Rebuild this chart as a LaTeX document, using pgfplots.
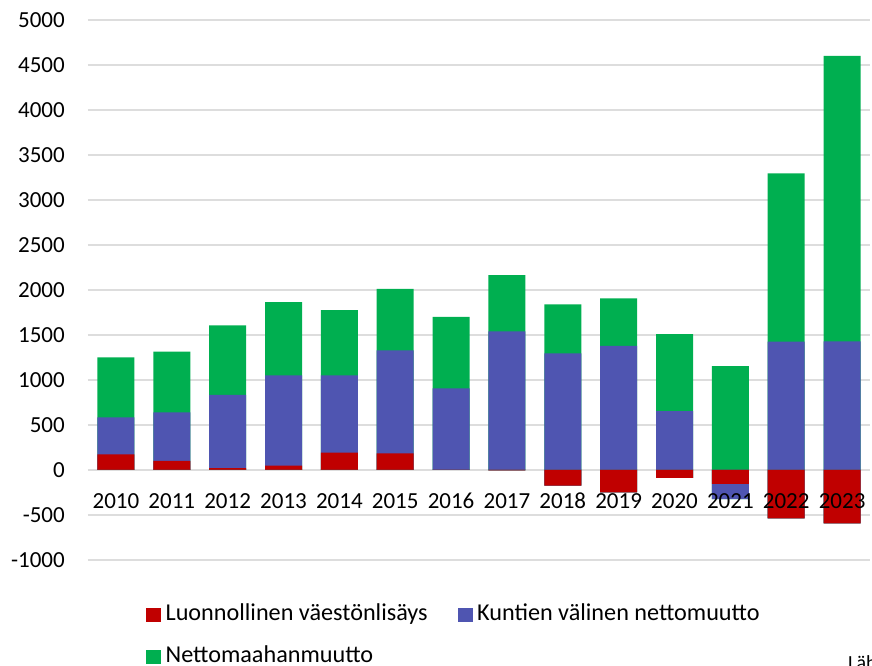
\documentclass[border=0pt]{standalone}
\usepackage{pgfplots}
\pgfplotsset{compat=1.18}
\usepackage{pgfplotstable}
\usepackage{fontspec}
\setmainfont{Carlito}
\definecolor{cRed}{HTML}{C00000}
\definecolor{cBlue}{HTML}{4F55B1}
\definecolor{cGreen}{HTML}{00AF50}
\definecolor{cGrid}{HTML}{DDDDDD}
\pgfplotsset{
  common/.style={
    at={(88pt,106pt)}, anchor=south west,
    scale only axis, width=782pt, height=540pt,
    xmin=-0.5, xmax=13.5, ymin=-1000, ymax=5000,
    axis line style={draw=none},
    major tick length=0pt,
    tick style={draw=none},
    tick label style={font=\fontsize{23}{28}\selectfont},
  },
}
% r = Luonnollinen väestönlisäys, b = Kuntien välinen nettomuutto, g = Nettomaahanmuutto
\pgfplotstableread{
i r b g
0 174 411 666
1 100 540 674
2 22 814 770
3 48 1003 814
4 192 859 725
5 185 1143 685
6 0 907 795
7 -5 1541 624
8 -174 1295 544
9 -248 1380 526
10 -87 653 857
11 -155 -170 1154
12 -537 1426 1870
13 -592 1430 3170
}\data
\begin{document}
\begin{tikzpicture}[x=1pt,y=1pt]
\useasboundingbox (0,0) rectangle (872,666);
\begin{axis}[
  common,
  ytick={-1000,-500,...,5000},
  xtick=\empty,
  scaled y ticks=false,
  /pgf/number format/assume math mode=true,
  /pgf/number format/1000 sep={},
  ymajorgrids, major grid style={cGrid, line width=1.5pt},
  yticklabel style={anchor=east, inner sep=0pt, xshift=-23pt},
  ybar, bar width=37pt, bar shift=0pt,
  legend columns=2,
  legend style={draw=none, fill=none, inner sep=0pt,
    at={(axis description cs:0.0742,-0.0800)}, anchor=north west,
    font=\fontsize{24.2}{29}\selectfont,
    nodes={inner sep=0pt, anchor=base west},
    row sep=24pt,
    /tikz/every odd column/.append style={column sep=5pt},
    /tikz/every even column/.append style={column sep=30pt}},
  legend cell align=left,
]
\addplot[fill=cGreen, draw=none, forget plot] table[x=i, y expr={max(\thisrow{r},0)+max(\thisrow{b},0)+max(\thisrow{g},0)}] {\data};
\addplot[fill=cBlue, draw=none, forget plot] table[x=i, y expr={max(\thisrow{r},0)+max(\thisrow{b},0)}] {\data};
\addplot[fill=cRed, draw=none, forget plot] table[x=i, y expr={max(\thisrow{r},0)}] {\data};
\addplot[fill=cGreen, draw=none, forget plot] table[x=i, y expr={min(\thisrow{r},0)+min(\thisrow{b},0)+min(\thisrow{g},0)}] {\data};
\addplot[fill=cBlue, draw=none, forget plot] table[x=i, y expr={min(\thisrow{r},0)+min(\thisrow{b},0)}] {\data};
\addplot[fill=cRed, draw=none, forget plot] table[x=i, y expr={min(\thisrow{r},0)}] {\data};
\addlegendimage{legend image code/.code={\fill[cRed] (0pt,-1pt) rectangle (14pt,12pt);}}
\addlegendentry{Luonnollinen väestönlisäys}
\addlegendimage{legend image code/.code={\fill[cBlue] (0pt,-1pt) rectangle (14pt,12pt);}}
\addlegendentry{Kuntien välinen nettomuutto}
\addlegendimage{legend image code/.code={\fill[cGreen] (0pt,-1pt) rectangle (14pt,12pt);}}
\addlegendentry{Nettomaahanmuutto}
\end{axis}
% second axis: category labels drawn over the bars
\begin{axis}[
  common,
  ytick=\empty,
  xtick={0,...,13},
  xticklabels={2010,2011,2012,2013,2014,2015,2016,2017,2018,2019,2020,2021,2022,2023},
  xticklabel style={anchor=base, inner sep=0pt, yshift=51pt},
]
\end{axis}
\node[anchor=base west, inner sep=0pt, font=\fontsize{20}{22}\selectfont] at (848,-4) {Lähde: Tilastokeskus};
\end{tikzpicture}
\end{document}
